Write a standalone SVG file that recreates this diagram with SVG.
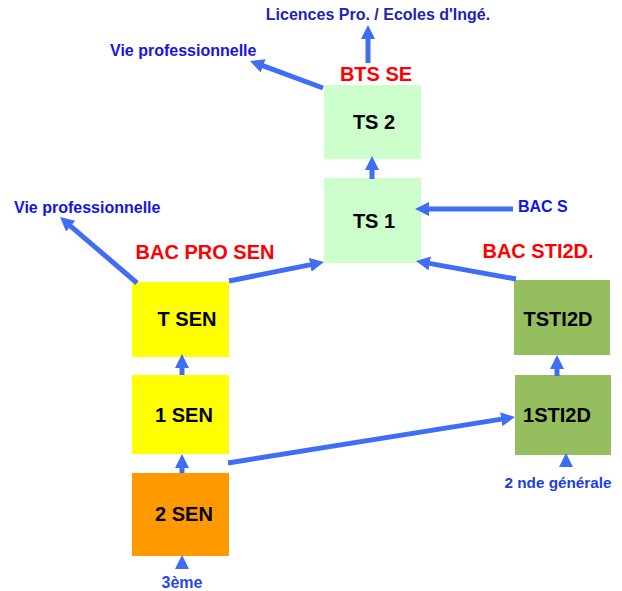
<svg xmlns="http://www.w3.org/2000/svg" width="622" height="591" viewBox="0 0 622 591">
<defs>
<marker id="ah" viewBox="0 0 14 14" refX="2" refY="7" markerWidth="14" markerHeight="14" markerUnits="userSpaceOnUse" orient="auto">
<path d="M0,0 L14,7 L0,14 z" fill="#3f6df5"/>
</marker>
<style>
text{font-family:"Liberation Sans",Arial,sans-serif;font-weight:bold}
.box{font-size:20px;fill:#000}
.red{font-size:20px;fill:#ff0000}
.lbl{font-size:16px;fill:#1414e6}
.con line{stroke:#3f6df5;stroke-width:5;marker-end:url(#ah)}
</style>
</defs>
<rect width="622" height="591" fill="#fff"/>
<g id="ts2"><rect x="324" y="85" width="97" height="74" fill="#ccffcc"/><text class="box" x="374" y="129" text-anchor="middle">TS 2</text></g>
<g id="ts1"><rect x="324" y="178" width="97" height="85" fill="#ccffcc"/><text class="box" x="374" y="228" text-anchor="middle">TS 1</text></g>
<g id="tsen"><rect x="132" y="282" width="97" height="75" fill="#ffff00"/><text class="box" x="187" y="326" text-anchor="middle">T SEN</text></g>
<g id="sen1"><rect x="132" y="375" width="97" height="79" fill="#ffff00"/><text class="box" x="184" y="422" text-anchor="middle">1 SEN</text></g>
<g id="sen2"><rect x="132" y="473" width="97" height="83" fill="#ff9900"/><text class="box" x="184" y="521" text-anchor="middle">2 SEN</text></g>
<g id="tsti2d"><rect x="514" y="280" width="96" height="75" fill="#95bf5e"/><text class="box" x="558" y="326" text-anchor="middle">TSTI2D</text></g>
<g id="sti2d1"><rect x="515" y="375" width="96" height="80" fill="#95bf5e"/><text class="box" x="557" y="422" text-anchor="middle">1STI2D</text></g>
<g id="labels">
<text class="lbl" x="378" y="20" text-anchor="middle" fill="#1f24b5" style="fill:#1f24b5">Licences Pro. / Ecoles d'Ingé.</text>
<text class="lbl" x="110" y="56">Vie professionnelle</text>
<text class="red" x="376" y="81" text-anchor="middle">BTS SE</text>
<text class="lbl" x="14" y="213">Vie professionnelle</text>
<text class="red" x="205" y="259" text-anchor="middle">BAC PRO SEN</text>
<text class="lbl" x="518" y="212">BAC S</text>
<text class="red" x="538" y="258" text-anchor="middle">BAC STI2D.</text>
<text class="lbl" x="558" y="488" text-anchor="middle" style="font-size:15.3px;fill:#1c3fe0">2 nde générale</text>
<text class="lbl" x="182" y="588" text-anchor="middle" style="fill:#2a48e0">3ème</text>
</g>
<g id="connectors" class="con">
<line x1="323" y1="88" x2="261.3" y2="65.2"/>
<line x1="368" y1="63" x2="368" y2="37"/>
<line x1="372" y1="179" x2="372" y2="168"/>
<line x1="513" y1="209" x2="427" y2="209"/>
<line x1="516" y1="279" x2="427.8" y2="263.1"/>
<line x1="137" y1="283" x2="69.1" y2="224.8"/>
<line x1="229" y1="281" x2="312.2" y2="264.4"/>
<line x1="182" y1="375" x2="182" y2="366"/>
<line x1="182" y1="473" x2="182" y2="466"/>
<line x1="182" y1="569" x2="182" y2="567"/>
<line x1="557" y1="376" x2="557" y2="367"/>
<line x1="566" y1="467" x2="566" y2="465"/>
<line x1="228" y1="463" x2="503.2" y2="418.9"/>
</g>
</svg>
